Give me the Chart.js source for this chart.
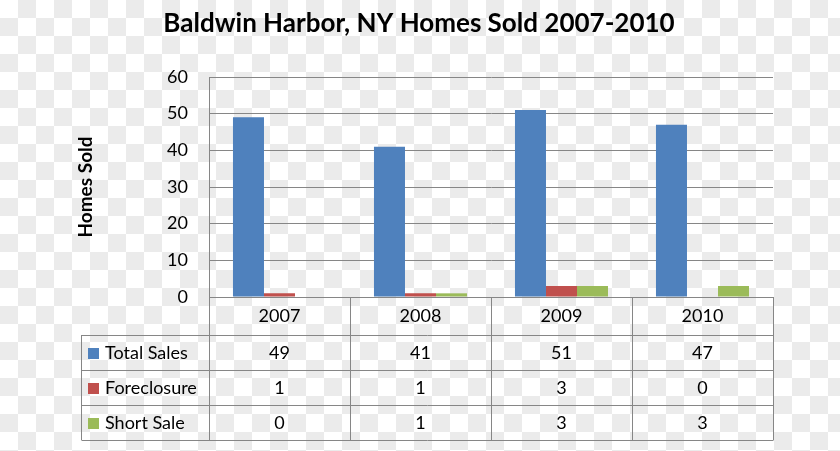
<!DOCTYPE html>
<html>
<head>
<meta charset="utf-8">
<script src="https://cdn.jsdelivr.net/npm/chart.js@4/dist/chart.umd.min.js"></script>
<style>
  html, body { margin: 0; padding: 0; }
  body {
    width: 840px; height: 451px; overflow: hidden;
    background: repeating-conic-gradient(#ebebeb 0% 25%, #ffffff 0% 50%) 0 0 / 36px 36px;
  }
  #wrap { position: relative; width: 840px; height: 451px; }
</style>
</head>
<body>
<div id="wrap"><canvas id="myChart"></canvas></div>
<script>
const titleText = 'Baldwin Harbor, NY Homes Sold 2007-2010'
const labels = ['2007', '2008', '2009', '2010']
const seriesNames = ['Total Sales', 'Foreclosure', 'Short Sale']
const totalSales = [49, 41, 51, 47]
const foreclosure = [1, 1, 3, 0]
const shortSale = [0, 1, 3, 3]
const yTicks = [0, 10, 20, 30, 40, 50, 60]

const seriesValues = [totalSales, foreclosure, shortSale]
const colors = ['#4f81bd', '#c0504d', '#9bbb59']
const lineColor = '#868686'

// title is drawn by hand: it is centred on the whole picture, not on the plot
const chartTitle = {
    id: 'chartTitle',
    afterDraw(chart) {
        const ctx = chart.ctx
        ctx.save()
        ctx.fillStyle = '#000'
        ctx.font = 'bold 26px Lato'
        ctx.textAlign = 'center'
        ctx.textBaseline = 'alphabetic'
        ctx.fillText(titleText, 419, 32)
        ctx.restore()
    }
}

// draws the data table under the plot (years, legend keys, values)
const dataTable = {
    id: 'dataTable',
    afterDraw(chart) {
        const {ctx, chartArea, scales} = chart
        const x = scales.x
        const colW = (chartArea.right - chartArea.left) / labels.length
        const top = chartArea.bottom
        const tableTop = top + 38
        const rowH = 35
        const tableBottom = tableTop + rowH * seriesNames.length
        const tableLeft = 81

        ctx.save()
        ctx.strokeStyle = lineColor
        ctx.lineWidth = 1
        ctx.beginPath()
        // column lines
        for (let i = 0; i <= labels.length; i++) {
            const px = Math.round(chartArea.left + i * colW) + 0.5
            ctx.moveTo(px, i === 0 ? chartArea.top : top)
            ctx.lineTo(px, tableBottom)
        }
        // row lines
        for (let r = 0; r <= seriesNames.length; r++) {
            const py = Math.round(tableTop + r * rowH) + 0.5
            ctx.moveTo(tableLeft + 0.5, py)
            ctx.lineTo(Math.round(chartArea.right) + 0.5, py)
        }
        ctx.moveTo(tableLeft + 0.5, tableTop)
        ctx.lineTo(tableLeft + 0.5, tableBottom)
        ctx.stroke()

        ctx.fillStyle = '#000'
        ctx.font = '18px Lato'
        ctx.textAlign = 'center'
        ctx.textBaseline = 'middle'
        labels.forEach((lab, i) => {
            ctx.fillText(lab, x.getPixelForValue(i), top + 19)
        })
        seriesNames.forEach((name, r) => {
            const cy = tableTop + r * rowH + rowH / 2 + 1
            ctx.fillStyle = colors[r]
            ctx.fillRect(88, Math.round(cy - 6), 11, 11)
            ctx.fillStyle = '#000'
            ctx.textAlign = 'left'
            ctx.fillText(name, 105, cy)
            ctx.textAlign = 'center'
            seriesValues[r].forEach((v, i) => {
                ctx.fillText(String(v), x.getPixelForValue(i), cy)
            })
        })
        ctx.restore()
    }
}

const data = {
    labels,
    datasets: seriesNames.map((name, i) => ({
        label: name,
        data: seriesValues[i],
        backgroundColor: colors[i],
        categoryPercentage: 0.66,
        barPercentage: 1,
    }))
}

const config = {
    type: 'bar',
    data: data,
    options: {
        responsive: true,
        maintainAspectRatio: false,
        animation: false,
        layout: {
            padding: {left: 0, right: 67, top: 77, bottom: 154}
        },
        plugins: {
            legend: {display: false},
            tooltip: {enabled: false},
            title: {display: false},
        },
        scales: {
            x: {
                display: false,
            },
            y: {
                min: 0,
                max: 60,
                afterFit(scale) { scale.width = 209 },
                afterBuildTicks(scale) { scale.ticks = yTicks.map(v => ({value: v})) },
                ticks: {
                    color: '#000',
                    padding: 21,
                    font: {family: 'Lato', size: 18},
                },
                grid: {
                    color: lineColor,
                    drawTicks: false,
                },
                border: {color: lineColor},
                title: {
                    display: true,
                    text: 'Homes Sold',
                    color: '#000',
                    font: {family: 'Lato', size: 19, weight: 'bold'},
                    padding: {top: 74, bottom: 0},
                },
            },
        },
    },
    plugins: [dataTable, chartTitle],
}

const myChart = new Chart(document.getElementById('myChart').getContext('2d'), config)
</script>
</body>
</html>
